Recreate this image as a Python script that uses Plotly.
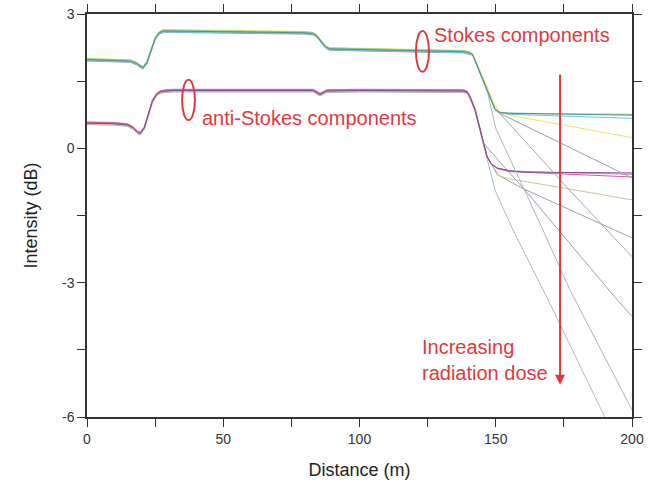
import plotly.graph_objects as go

# ---------------- data ----------------
# shared profile of the Stokes traces (distance in m, intensity in dB)
STOKES_BASE_X = [0, 10, 16, 18, 19.5, 20.5, 22, 23.5, 25, 26.5, 28, 30, 50, 80, 83, 84.5, 86, 87.5, 89, 100, 120, 138, 140]
STOKES_BASE_Y = [1.98, 1.97, 1.95, 1.9, 1.83, 1.80, 1.92, 2.2, 2.45, 2.58, 2.62, 2.62, 2.61, 2.58, 2.56, 2.5, 2.38, 2.27, 2.22, 2.2, 2.18, 2.16, 2.14]

# shared profile of the anti-Stokes traces
AS_BASE_X = [0, 10, 15, 17, 18.5, 19.5, 21, 22.5, 24, 25.5, 27, 29, 32, 50, 83, 85.5, 88, 100, 138, 139.5]
AS_BASE_Y = [0.56, 0.55, 0.52, 0.45, 0.36, 0.33, 0.45, 0.75, 1.05, 1.2, 1.26, 1.28, 1.29, 1.29, 1.29, 1.2, 1.28, 1.29, 1.28, 1.25]

# small vertical spread between the bundled traces
STOKES_OFFSET = [0.0, 0.02, -0.02, 0.03, -0.03, 0.01, -0.01]
AS_OFFSET = [0.0, 0.02, 0.03, -0.02, -0.03, 0.01, -0.01]

# high-dose end of each Stokes trace
STOKES_TAIL_X = [
    [141.5, 143, 145.3, 147.5, 149.7, 151.5, 155, 170, 200],
    [141.5, 143, 145.3, 147.5, 149.7, 151.5, 155, 170, 200],
    [141.5, 143, 145.3, 147.5, 149.7, 151.5, 155, 170, 200],
    [141.5, 143, 145.3, 147.5, 149.7, 151.5, 155, 200],
    [141.5, 143, 145.3, 147.5, 149.7, 151.5, 200],
    [141.5, 143, 145.3, 147.5, 149.7, 151.5, 177, 200],
    [141.5, 143, 145.3, 147, 150, 167.3, 177.2, 200],
]
STOKES_TAIL_Y = [
    [2.1, 1.87, 1.53, 1.2, 0.88, 0.8, 0.78, 0.77, 0.74],
    [2.1, 1.87, 1.53, 1.2, 0.88, 0.8, 0.79, 0.77, 0.76],
    [2.1, 1.87, 1.53, 1.2, 0.88, 0.8, 0.76, 0.73, 0.67],
    [2.12, 1.92, 1.6, 1.28, 0.95, 0.82, 0.74, 0.24],
    [2.08, 1.85, 1.5, 1.18, 0.87, 0.78, -0.66],
    [2.1, 1.86, 1.52, 1.19, 0.87, 0.78, -0.93, -2.42],
    [2.1, 1.87, 1.53, 1.25, 0.45, -1.82, -3.16, -5.84],
]
STOKES_COLORS = ["#4a9488", "#8cc88c", "#6cc4e4", "#eee45a", "#9c9ca8", "#a4a8b0", "#a8b6c4"]

# high-dose end of each anti-Stokes trace
AS_TAIL_X = [
    [140.5, 142.4, 144.2, 146.8, 148.5, 150.5, 155, 160, 200],
    [140.5, 142.4, 144.2, 146.8, 148.5, 150.5, 155, 170, 200],
    [140.5, 142.4, 144.2, 146.8, 148.5, 150.5, 155, 170, 200],
    [140.5, 142.4, 144.2, 146.8, 148.5, 150.5, 155, 200],
    [140.5, 142.4, 144.2, 146.8, 148.5, 151, 160, 200],
    [140.5, 142.4, 144.2, 145.5, 150, 160.7, 194.5, 200],
    [140.5, 142.4, 144.2, 146.8, 149.7, 156.3, 169.2, 190, 191],
]
AS_TAIL_Y = [
    [1.15, 0.86, 0.41, -0.19, -0.36, -0.44, -0.5, -0.53, -0.55],
    [1.17, 0.88, 0.43, -0.18, -0.36, -0.45, -0.52, -0.56, -0.64],
    [1.18, 0.89, 0.44, -0.17, -0.35, -0.44, -0.5, -0.54, -0.58],
    [1.13, 0.84, 0.39, -0.2, -0.36, -0.6, -0.68, -1.15],
    [1.12, 0.83, 0.38, -0.2, -0.36, -0.6, -0.9, -2.0],
    [1.16, 0.87, 0.42, 0.12, -0.2, -0.93, -3.38, -3.75],
    [1.14, 0.85, 0.40, -0.19, -0.93, -1.82, -3.38, -6.0, -6.15],
]
AS_COLORS = ["#84488e", "#d25a9c", "#b096cc", "#ccc4a0", "#9ca2aa", "#98a2ae", "#a6bccc"]

X_TICKS = [0, 50, 100, 150, 200]
X_TICK_TEXT = ["0", "50", "100", "150", "200"]
Y_TICKS = [-6, -3, 0, 3]
Y_TICK_TEXT = ["-6", "-3", "0", "3"]

RED = "#e0393e"
FONT = "Arial, Liberation Sans, sans-serif"

fig = go.Figure()

def add_group(base_x, base_y, offsets, tails_x, tails_y, colors, order):
    for i in order:
        xs = list(base_x) + list(tails_x[i])
        ys = [v + offsets[i] for v in base_y] + list(tails_y[i])
        fig.add_trace(go.Scatter(x=xs, y=ys, mode="lines",
                                 line=dict(color=colors[i], width=1),
                                 showlegend=False, hoverinfo="skip"))

add_group(AS_BASE_X, AS_BASE_Y, AS_OFFSET, AS_TAIL_X, AS_TAIL_Y, AS_COLORS, [6, 5, 4, 3, 2, 1, 0])
add_group(STOKES_BASE_X, STOKES_BASE_Y, STOKES_OFFSET, STOKES_TAIL_X, STOKES_TAIL_Y, STOKES_COLORS, [6, 5, 4, 3, 2, 1, 0])

# ellipses marking the two groups
fig.add_shape(type="circle", xref="x", yref="y", x0=120.7, x1=125.5, y0=1.71, y1=2.62,
              line=dict(color=RED, width=2))
fig.add_shape(type="circle", xref="x", yref="y", x0=34.9, x1=39.6, y0=0.63, y1=1.53,
              line=dict(color=RED, width=2))

fig.add_annotation(x=126.6, y=2.53, text="Stokes components", showarrow=False,
                   xanchor="left", yanchor="middle", font=dict(family=FONT, size=20, color=RED))
fig.add_annotation(x=41.5, y=0.68, text="anti-Stokes components", showarrow=False,
                   xanchor="left", yanchor="middle", font=dict(family=FONT, size=20, color=RED))
fig.add_annotation(x=122.2, y=-4.72, text="Increasing<br>radiation dose", showarrow=False,
                   xanchor="left", yanchor="middle", align="left",
                   font=dict(family=FONT, size=20, color=RED))
# arrow for increasing dose
fig.add_annotation(x=173.6, y=-5.28, ax=173.6, ay=1.68, axref="x", ayref="y",
                   xref="x", yref="y", text="", showarrow=True,
                   arrowhead=2, arrowsize=1, arrowwidth=2, arrowcolor=RED)

axis_common = dict(showline=True, linecolor="#333", linewidth=1.5, mirror="ticks",
                   ticks="outside", ticklen=8, tickwidth=1.3, tickcolor="#333",
                   showgrid=False, zeroline=False, automargin=False,
                   tickfont=dict(family=FONT, size=14, color="#333"))

fig.update_xaxes(range=[0, 200], tickvals=X_TICKS, ticktext=X_TICK_TEXT,
                 minor=dict(dtick=25, ticks="outside", ticklen=8, tickcolor="#333", tickwidth=1.3),
                 title=dict(text="Distance (m)", font=dict(family=FONT, size=18, color="#222"), standoff=18),
                 **axis_common)
fig.update_yaxes(range=[-6, 3], tickvals=Y_TICKS, ticktext=Y_TICK_TEXT,
                 minor=dict(dtick=1.5, ticks="outside", ticklen=8, tickcolor="#333", tickwidth=1.3),
                 title=dict(text="Intensity (dB)", font=dict(family=FONT, size=18, color="#222"), standoff=20),
                 **axis_common)

fig.update_layout(width=652, height=485, margin=dict(l=87, r=20, t=14, b=68),
                  plot_bgcolor="white", paper_bgcolor="white", showlegend=False)

fig.write_html("out.html")
